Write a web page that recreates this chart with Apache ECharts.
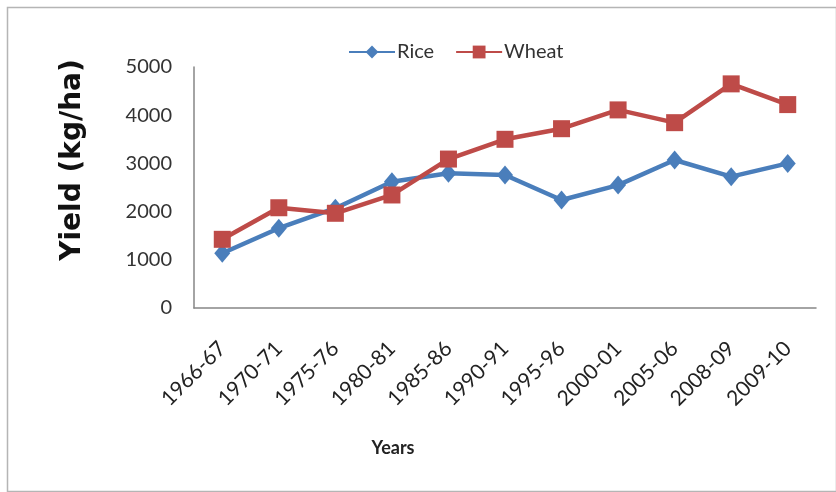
<!DOCTYPE html>
<html>
<head>
<meta charset="utf-8">
<script src="https://cdn.jsdelivr.net/npm/echarts@6/dist/echarts.min.js"></script>
<style>
  html, body { margin: 0; padding: 0; background: #fff; }
  #chart { width: 836px; height: 492px; }
</style>
</head>
<body>
<div id="chart"></div>
<script>
// Crop years
const years = ['1966-67', '1970-71', '1975-76', '1980-81', '1985-86', '1990-91',
               '1995-96', '2000-01', '2005-06', '2008-09', '2009-10'];

// Yield in kg/ha
const riceYield  = [1135, 1655, 2070, 2620, 2795, 2760, 2240, 2550, 3070, 2725, 3000];
const wheatYield = [1425, 2080, 1965, 2345, 3090, 3500, 3720, 4110, 3845, 4650, 4220];

// Value axis ticks
const yMin = 0, yMax = 5000, yStep = 1000;

const RICE = '#4A7EBB';
const WHEAT = '#BE4B48';
const AXIS = '#868686';
const LABEL_FONT = 'Lato, "Open Sans", sans-serif';

const chart = echarts.init(document.getElementById('chart'), null, { renderer: 'canvas' });

chart.setOption({
  animation: false,
  backgroundColor: '#fff',
  grid: { left: 194, right: 20, top: 67, bottom: 184, containLabel: false },
  legend: {
    top: 37,
    left: 343,
    itemWidth: 46,
    itemHeight: 16,
    itemGap: 21,
    textStyle: { fontFamily: LABEL_FONT, fontSize: 20, color: '#333', padding: [0, 0, 0, -3] },
    data: ['Rice', 'Wheat']
  },
  xAxis: {
    type: 'category',
    data: years,
    boundaryGap: true,
    axisLine: { lineStyle: { color: AXIS, width: 1.5 } },
    axisTick: { show: false },
    axisLabel: {
      rotate: 45,
      margin: 37,
      fontFamily: LABEL_FONT,
      fontSize: 21,
      color: '#222',
      interval: 0
    },
    splitLine: { show: false }
  },
  yAxis: {
    type: 'value',
    min: yMin,
    max: yMax,
    interval: yStep,
    axisLine: { show: true, lineStyle: { color: AXIS, width: 1.5 } },
    axisTick: { show: false },
    axisLabel: {
      margin: 22,
      fontFamily: LABEL_FONT,
      fontSize: 20,
      color: '#333',
      formatter: v => String(v)
    },
    splitLine: { show: false }
  },
  series: [
    {
      name: 'Rice',
      type: 'line',
      data: riceYield,
      symbol: 'diamond',
      symbolSize: [16, 19],
      lineStyle: { color: RICE, width: 4.5 },
      itemStyle: { color: RICE },
      z: 2
    },
    {
      name: 'Wheat',
      type: 'line',
      data: wheatYield,
      symbol: 'rect',
      symbolSize: 17,
      lineStyle: { color: WHEAT, width: 4.5 },
      itemStyle: { color: WHEAT },
      z: 3
    }
  ],
  graphic: [
    {
      type: 'rect',
      left: 5, top: 5,
      shape: { width: 829, height: 484 },
      style: { fill: 'none', stroke: '#b5b5b5', lineWidth: 1.5 },
      silent: true
    },
    {
      type: 'text',
      x: 73, y: 160,
      rotation: Math.PI / 2,
      style: {
        text: 'Yield (kg/ha)',
        font: 'bold 28px "DejaVu Sans", Verdana, sans-serif',
        fill: '#111',
        textAlign: 'center',
        textVerticalAlign: 'middle'
      }
    },
    {
      type: 'text',
      x: 393, y: 448,
      style: {
        text: 'Years',
        font: 'bold 18px Lato, "Open Sans", sans-serif',
        fill: '#222',
        textAlign: 'center',
        textVerticalAlign: 'middle'
      }
    }
  ]
});
</script>
</body>
</html>
